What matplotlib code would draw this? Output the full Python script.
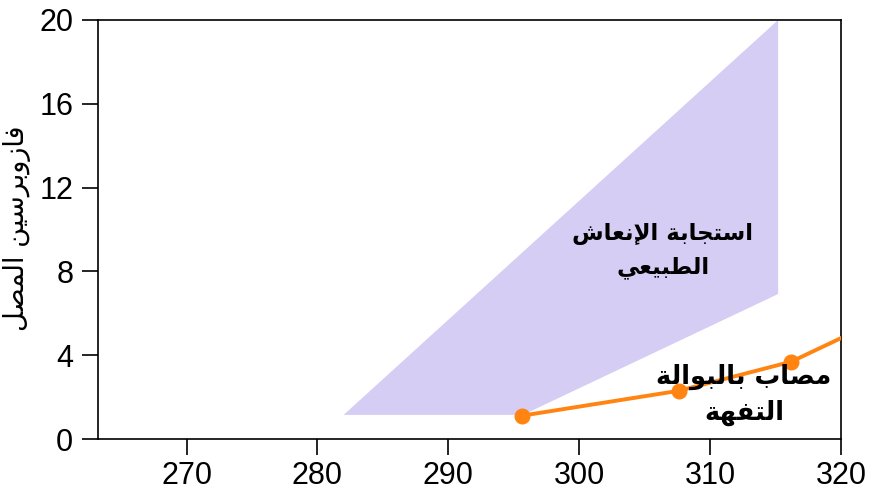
import matplotlib
matplotlib.use("Agg")
import matplotlib.pyplot as plt
from matplotlib.patches import Polygon

# ---------------- data ----------------
x_ticks = [270, 280, 290, 300, 310, 320]
y_ticks = [0, 4, 8, 12, 16, 20]

# normal resuscitation response region (osmolality, vasopressin)
region_x = [282.0, 295.7, 315.2, 315.2]
region_y = [1.15, 1.15, 6.92, 20.0]

# diabetes insipidus patient
patient_x = [295.6, 307.6, 316.2, 324.0]
patient_y = [1.11, 2.30, 3.69, 6.0]

y_label = "فازوبرسين المصل"
region_label = ["استجابة الإنعاش", "الطبيعي"]
patient_label = ["مصاب بالبوالة", "التفهة"]

# ---------------- simple Arabic shaping (presentation forms, visual order) ----------------
FORMS = {
    '\u0627': ('\uFE8D', '\uFE8E', None, None),
    '\u0625': ('\uFE87', '\uFE88', None, None),
    '\u0623': ('\uFE83', '\uFE84', None, None),
    '\u0628': ('\uFE8F', '\uFE90', '\uFE91', '\uFE92'),
    '\u0629': ('\uFE93', '\uFE94', None, None),
    '\u062A': ('\uFE95', '\uFE96', '\uFE97', '\uFE98'),
    '\u062C': ('\uFE9D', '\uFE9E', '\uFE9F', '\uFEA0'),
    '\u0631': ('\uFEAD', '\uFEAE', None, None),
    '\u0632': ('\uFEAF', '\uFEB0', None, None),
    '\u0633': ('\uFEB1', '\uFEB2', '\uFEB3', '\uFEB4'),
    '\u0634': ('\uFEB5', '\uFEB6', '\uFEB7', '\uFEB8'),
    '\u0635': ('\uFEB9', '\uFEBA', '\uFEBB', '\uFEBC'),
    '\u0637': ('\uFEC1', '\uFEC2', '\uFEC3', '\uFEC4'),
    '\u0639': ('\uFEC9', '\uFECA', '\uFECB', '\uFECC'),
    '\u0641': ('\uFED1', '\uFED2', '\uFED3', '\uFED4'),
    '\u0644': ('\uFEDD', '\uFEDE', '\uFEDF', '\uFEE0'),
    '\u0645': ('\uFEE1', '\uFEE2', '\uFEE3', '\uFEE4'),
    '\u0646': ('\uFEE5', '\uFEE6', '\uFEE7', '\uFEE8'),
    '\u0647': ('\uFEE9', '\uFEEA', '\uFEEB', '\uFEEC'),
    '\u0648': ('\uFEED', '\uFEEE', None, None),
    '\u064A': ('\uFEF1', '\uFEF2', '\uFEF3', '\uFEF4'),
    'LA': ('\uFEFB', '\uFEFC', None, None),
    'LAH': ('\uFEF9', '\uFEFA', None, None),
    'LAA': ('\uFEF7', '\uFEF8', None, None),
}


def shape(text):
    chars = []
    i = 0
    while i < len(text):
        c = text[i]
        if c == '\u0644' and i + 1 < len(text) and text[i + 1] in ('\u0627', '\u0625', '\u0623'):
            chars.append({'\u0627': 'LA', '\u0625': 'LAH', '\u0623': 'LAA'}[text[i + 1]])
            i += 2
        else:
            chars.append(c)
            i += 1
    out = []
    for k, c in enumerate(chars):
        if c not in FORMS:
            out.append(c)
            continue
        iso, fin, ini, med = FORMS[c]
        prev = chars[k - 1] if k > 0 else None
        nxt = chars[k + 1] if k + 1 < len(chars) else None
        jp = prev in FORMS and FORMS[prev][2] is not None
        jn = ini is not None and nxt in FORMS
        if jp and jn:
            out.append(med)
        elif jp:
            out.append(fin)
        elif jn:
            out.append(ini)
        else:
            out.append(iso)
    return ''.join(out)[::-1]


def shape_lines(lines):
    return '\n'.join(shape(l) for l in lines)


# ---------------- figure ----------------
plt.rcParams['font.family'] = ['Liberation Sans', 'DejaVu Sans']
fig = plt.figure(figsize=(8.74, 4.91), dpi=100)
ax = fig.add_axes([0.1116, 0.1059, 0.8506, 0.8534])

ax.add_patch(Polygon(list(zip(region_x, region_y)), closed=True,
                     facecolor='#d5cdf3', edgecolor='none', zorder=1))
ax.plot(patient_x, patient_y, color='#ff8412', lw=2.8, marker='o', ms=10.5,
        zorder=3, clip_on=True)

ax.set_xlim(263.2, 320)
ax.set_ylim(0, 20)
ax.set_xticks(x_ticks)
ax.set_yticks(y_ticks)
ax.tick_params(axis='both', direction='out', length=11.5, width=1.2,
               labelsize=22, colors='black')
ax.tick_params(axis='x', pad=4)
ax.tick_params(axis='y', pad=6)
for s in ax.spines.values():
    s.set_linewidth(1.2)
    s.set_color('black')

arab = ['DejaVu Sans']
ax.text(306.4, 9.0, shape_lines(region_label), family=arab, fontsize=16.5,
        fontweight='bold', ha='center', va='center', multialignment='center',
        linespacing=1.55, zorder=4)
ax.text(312.6, 2.1, shape_lines(patient_label), family=arab, fontsize=18.5,
        fontweight='bold', ha='center', va='center', multialignment='center',
        linespacing=1.45, zorder=4)

fig.text(17 / 874, 1 - 228 / 491, shape(y_label), family=arab, fontsize=19.5,
         rotation=90, ha='center', va='center')

fig.savefig('out.png', dpi=100)
